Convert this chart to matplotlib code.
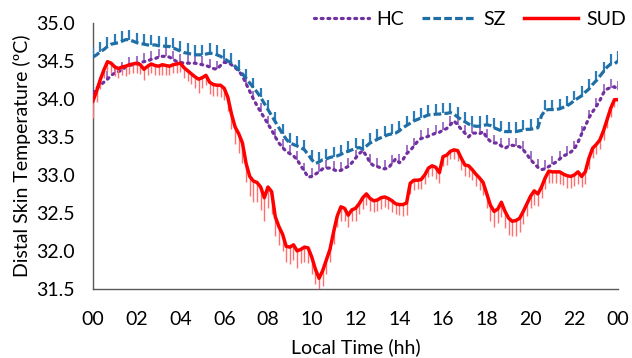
import numpy as np
import matplotlib.pyplot as plt

# 10-min bins over 24 h
minutes = np.arange(0, 1441, 10)

hc = [34.08, 34.14, 34.18, 34.22, 34.26, 34.31, 34.34, 34.36, 34.38, 34.42, 34.44, 34.45,
      34.46, 34.48, 34.49, 34.50, 34.52, 34.53, 34.55, 34.56, 34.56, 34.55, 34.52, 34.49,
      34.48, 34.47, 34.47, 34.47, 34.47, 34.46, 34.45, 34.44, 34.42, 34.40, 34.39, 34.44,
      34.48, 34.48, 34.45, 34.41, 34.37, 34.30, 34.20, 34.10, 34.00, 33.91, 33.83, 33.75,
      33.67, 33.59, 33.50, 33.42, 33.36, 33.31, 33.28, 33.25, 33.20, 33.12, 33.05, 32.97,
      32.98, 33.01, 33.04, 33.08, 33.09, 33.09, 33.07, 33.05, 33.06, 33.09, 33.11, 33.16,
      33.22, 33.28, 33.32, 33.25, 33.16, 33.12, 33.11, 33.09, 33.08, 33.09, 33.15, 33.21,
      33.16, 33.20, 33.28, 33.32, 33.38, 33.44, 33.48, 33.49, 33.51, 33.53, 33.55, 33.56,
      33.59, 33.61, 33.66, 33.71, 33.66, 33.60, 33.55, 33.50, 33.55, 33.55, 33.54, 33.57,
      33.49, 33.44, 33.42, 33.42, 33.38, 33.35, 33.38, 33.39, 33.38, 33.37, 33.33, 33.27,
      33.20, 33.15, 33.10, 33.07, 33.08, 33.11, 33.14, 33.17, 33.21, 33.25, 33.27, 33.30,
      33.34, 33.43, 33.54, 33.64, 33.75, 33.83, 33.90, 33.98, 34.08, 34.13, 34.15, 34.16,
      34.12]

sz = [34.55, 34.58, 34.62, 34.65, 34.69, 34.72, 34.73, 34.74, 34.76, 34.78, 34.78, 34.76,
      34.74, 34.73, 34.72, 34.71, 34.71, 34.71, 34.70, 34.70, 34.69, 34.69, 34.67, 34.65,
      34.63, 34.61, 34.60, 34.59, 34.58, 34.58, 34.58, 34.59, 34.60, 34.60, 34.58, 34.56,
      34.53, 34.50, 34.47, 34.43, 34.38, 34.33, 34.27, 34.21, 34.15, 34.09, 34.02, 33.94,
      33.86, 33.78, 33.70, 33.62, 33.54, 33.47, 33.42, 33.40, 33.38, 33.36, 33.33, 33.27,
      33.20, 33.15, 33.17, 33.20, 33.21, 33.23, 33.24, 33.25, 33.27, 33.30, 33.31, 33.33,
      33.35, 33.36, 33.34, 33.38, 33.42, 33.44, 33.47, 33.49, 33.51, 33.53, 33.54, 33.55,
      33.58, 33.62, 33.65, 33.68, 33.71, 33.73, 33.75, 33.77, 33.79, 33.79, 33.80, 33.80,
      33.81, 33.81, 33.82, 33.80, 33.76, 33.73, 33.70, 33.67, 33.65, 33.64, 33.64, 33.65,
      33.66, 33.65, 33.62, 33.60, 33.58, 33.57, 33.57, 33.57, 33.57, 33.58, 33.59, 33.60,
      33.60, 33.61, 33.62, 33.78, 33.85, 33.86, 33.86, 33.86, 33.87, 33.89, 33.91, 33.94,
      33.98, 34.01, 34.04, 34.09, 34.13, 34.19, 34.24, 34.30, 34.36, 34.42, 34.46, 34.46,
      34.50]

sud = [33.97, 34.10, 34.25, 34.38, 34.49, 34.47, 34.42, 34.40, 34.42, 34.43, 34.45, 34.46,
       34.47, 34.45, 34.39, 34.43, 34.46, 34.44, 34.43, 34.45, 34.44, 34.43, 34.45, 34.46,
       34.47, 34.41, 34.37, 34.33, 34.29, 34.26, 34.28, 34.31, 34.22, 34.19, 34.18, 34.18,
       34.14, 34.02, 33.80, 33.63, 33.54, 33.42, 33.15, 32.98, 32.92, 32.90, 32.84, 32.70,
       32.84, 32.78, 32.45, 32.32, 32.22, 32.06, 32.05, 32.08, 32.00, 32.02, 32.05, 32.04,
       31.92, 31.76, 31.64, 31.74, 31.88, 32.02, 32.25, 32.46, 32.58, 32.56, 32.47, 32.54,
       32.56, 32.62, 32.70, 32.75, 32.69, 32.66, 32.67, 32.70, 32.71, 32.69, 32.66, 32.62,
       32.61, 32.61, 32.63, 32.89, 32.93, 32.93, 32.94, 33.00, 33.09, 33.12, 33.10, 33.03,
       33.24, 33.26, 33.31, 33.33, 33.32, 33.22, 33.13, 33.12, 33.07, 33.01, 32.96, 32.90,
       32.75, 32.60, 32.52, 32.55, 32.64, 32.52, 32.43, 32.39, 32.40, 32.43, 32.52, 32.62,
       32.72, 32.79, 32.75, 32.84, 32.96, 33.05, 33.04, 33.04, 33.04, 33.01, 32.99, 32.98,
       33.00, 33.04, 32.98, 33.04, 33.22, 33.35, 33.40, 33.46, 33.58, 33.73, 33.88, 33.99,
       33.99]

# standard errors (SUD drawn downward, HC/SZ upward)
hc_err = 0.11
sz_err = 0.13
sud_err = [0.22, 0.14, 0.12, 0.10, 0.12, 0.13, 0.12, 0.12, 0.11, 0.13, 0.12, 0.12,
           0.13, 0.12, 0.14, 0.12, 0.12, 0.13, 0.12, 0.13, 0.12, 0.12, 0.11, 0.12,
           0.12, 0.13, 0.14, 0.13, 0.14, 0.18, 0.14, 0.13, 0.16, 0.15, 0.14, 0.16,
           0.16, 0.18, 0.20, 0.22, 0.25, 0.26, 0.24, 0.26, 0.28, 0.26, 0.30, 0.30,
           0.28, 0.30, 0.26, 0.24, 0.22, 0.20, 0.22, 0.20, 0.22, 0.18, 0.20, 0.20,
           0.22, 0.20, 0.18, 0.20, 0.18, 0.16, 0.16, 0.15, 0.18, 0.16, 0.15, 0.15,
           0.16, 0.14, 0.15, 0.14, 0.16, 0.15, 0.14, 0.15, 0.13, 0.14, 0.15, 0.14,
           0.14, 0.15, 0.16, 0.14, 0.13, 0.12, 0.13, 0.12, 0.12, 0.14, 0.16, 0.14,
           0.12, 0.13, 0.10, 0.12, 0.14, 0.15, 0.14, 0.15, 0.14, 0.15, 0.16, 0.16,
           0.18, 0.20, 0.20, 0.18, 0.20, 0.22, 0.22, 0.20, 0.20, 0.18, 0.16, 0.16,
           0.16, 0.18, 0.16, 0.15, 0.14, 0.16, 0.14, 0.15, 0.16, 0.14, 0.16, 0.15,
           0.15, 0.16, 0.14, 0.16, 0.14, 0.13, 0.13, 0.12, 0.12, 0.11, 0.12, 0.10,
           0.10]

xticks = list(range(0, 25, 2))
xticklabels = ['00', '02', '04', '06', '08', '10', '12', '14', '16', '18', '20', '22', '00']

plt.rcParams['font.family'] = ['Lato', 'DejaVu Sans']

hours = minutes / 60
n = len(hours)
zeros = np.zeros(n)

fig = plt.figure(figsize=(6.32, 3.58), dpi=100)
ax = fig.add_axes([0.147, 0.193, 0.831, 0.743])

purple = '#7030A0'
blue = '#1F6FA6'
red = '#FF0000'

ax.errorbar(hours, hc, yerr=[zeros, np.full(n, hc_err)], fmt='none', errorevery=2,
            ecolor='#8A4CB8', elinewidth=1.1, capsize=0, zorder=2)
l1, = ax.plot(hours, hc, color=purple, lw=2.3, linestyle=(0, (0.6, 1.5)),
              dash_capstyle='round', label='HC', zorder=3)

ax.errorbar(hours, sz, yerr=[zeros, np.full(n, sz_err)], fmt='none', errorevery=2,
            ecolor='#2A7DB8', elinewidth=1.6, capsize=0, zorder=4)
l2, = ax.plot(hours, sz, color=blue, lw=2.3, linestyle=(0, (2.4, 1.0)),
              label='SZ', zorder=5)

ax.errorbar(hours, sud, yerr=[sud_err, zeros], fmt='none',
            ecolor='#FF6F6F', elinewidth=1.0, capsize=0, zorder=6)
l3, = ax.plot(hours, sud, color=red, lw=2.5, label='SUD', zorder=7)

ax.set_xlim(0, 24)
ax.set_ylim(31.5, 35.0)
ax.set_xticks(xticks)
ax.set_xticklabels(xticklabels)
ax.set_yticks(np.arange(31.5, 35.01, 0.5))
ax.set_yticklabels([f'{v:.1f}' for v in np.arange(31.5, 35.01, 0.5)])
ax.tick_params(axis='both', length=0, labelsize=14, colors='black')
ax.tick_params(axis='x', pad=16)
ax.tick_params(axis='y', pad=13)

for s in ['top', 'right']:
    ax.spines[s].set_visible(False)
for s in ['left', 'bottom']:
    ax.spines[s].set_color('#595959')
    ax.spines[s].set_linewidth(1.0)

ax.set_xlabel('Local Time (hh)', fontsize=14, labelpad=7)
ax.set_ylabel('Distal Skin Temperature (ºC)', fontsize=14, labelpad=4)

fig.legend(handles=[l1, l2, l3], loc='center right', bbox_to_anchor=(0.99, 0.945),
           ncol=3, frameon=False, fontsize=14, handlelength=2.8,
           handletextpad=0.4, columnspacing=0.9, borderpad=0, borderaxespad=0)

fig.savefig('out.png', dpi=100)
